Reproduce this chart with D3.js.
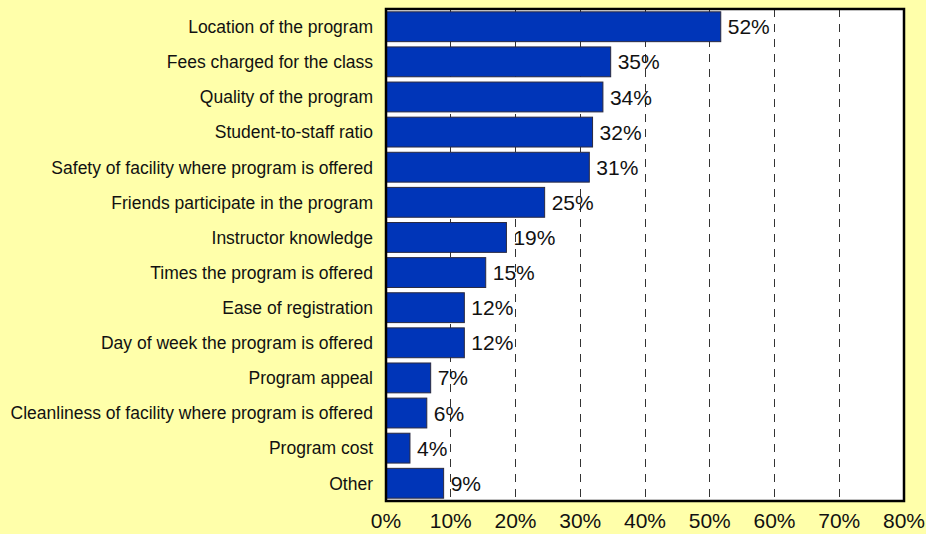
<!DOCTYPE html>
<html lang="en">
<head>
  <meta charset="UTF-8">
  <title>Program factors</title>
  <script src="https://d3js.org/d3.v7.min.js"></script>
  <style>
    body { margin: 0; background: #ffffaa; }
    svg { display: block; font-family: "Liberation Sans", Arial, sans-serif; }
  </style>
</head>
<body>
<div id="chart"></div>
<script>
  // data
  const categories = [
    "Location of the program",
    "Fees charged for the class",
    "Quality of the program",
    "Student-to-staff ratio",
    "Safety of facility where program is offered",
    "Friends participate in the program",
    "Instructor knowledge",
    "Times the program is offered",
    "Ease of registration",
    "Day of week the program is offered",
    "Program appeal",
    "Cleanliness of facility where program is offered",
    "Program cost",
    "Other"
  ];
  const values = [51.7, 34.7, 33.5, 31.9, 31.4, 24.5, 18.6, 15.4, 12.1, 12.1, 6.9, 6.3, 3.7, 8.9];
  const xTicks = [0, 10, 20, 30, 40, 50, 60, 70, 80];

  const W = 926, H = 534;
  const plotLeft = 386, plotRight = 904, plotTop = 9, plotBottom = 501;

  const svg = d3.select("#chart").append("svg")
    .attr("width", W).attr("height", H);

  svg.append("rect")
    .attr("width", W).attr("height", H)
    .attr("fill", "#ffffaa");

  const x = d3.scaleLinear().domain([0, 80]).range([plotLeft, plotRight]);
  const y = d3.scaleBand()
    .domain(categories)
    .range([plotTop, plotBottom])
    .paddingInner(0.15)
    .paddingOuter(0.08);

  // plot area
  svg.append("rect")
    .attr("x", plotLeft).attr("y", plotTop)
    .attr("width", plotRight - plotLeft).attr("height", plotBottom - plotTop)
    .attr("fill", "white");

  // dashed gridlines
  svg.selectAll(".grid")
    .data(xTicks.slice(1, -1))
    .enter().append("line")
    .attr("class", "grid")
    .attr("x1", d => Math.floor(x(d)) + 0.5)
    .attr("x2", d => Math.floor(x(d)) + 0.5)
    .attr("y1", plotTop)
    .attr("y2", plotBottom)
    .attr("stroke", "#333")
    .attr("stroke-width", 1)
    .attr("stroke-dasharray", "8,7");

  // bars
  svg.selectAll(".bar")
    .data(values)
    .enter().append("rect")
    .attr("class", "bar")
    .attr("x", x(0))
    .attr("y", (d, i) => y(categories[i]))
    .attr("width", d => x(d) - x(0))
    .attr("height", y.bandwidth())
    .attr("fill", "#0035b8")
    .attr("stroke", "#2a2a40")
    .attr("stroke-width", 1);

  // value labels
  svg.selectAll(".val")
    .data(values)
    .enter().append("text")
    .attr("class", "val")
    .attr("x", d => x(d) + 7)
    .attr("y", (d, i) => y(categories[i]) + y.bandwidth() / 2)
    .attr("dy", "0.36em")
    .attr("font-size", "21px")
    .attr("fill", "#111")
    .text(d => Math.round(d) + "%");

  // category labels
  svg.selectAll(".cat")
    .data(categories)
    .enter().append("text")
    .attr("class", "cat")
    .attr("x", plotLeft - 13)
    .attr("y", d => y(d) + y.bandwidth() / 2)
    .attr("dy", "0.36em")
    .attr("text-anchor", "end")
    .attr("font-size", "17.5px")
    .attr("fill", "#111")
    .text(d => d);

  // x tick labels
  svg.selectAll(".tick-label")
    .data(xTicks)
    .enter().append("text")
    .attr("class", "tick-label")
    .attr("x", d => x(d))
    .attr("y", 528)
    .attr("text-anchor", "middle")
    .attr("font-size", "21px")
    .attr("fill", "#111")
    .text(d => d + "%");

  // plot border
  svg.append("rect")
    .attr("x", plotLeft).attr("y", plotTop)
    .attr("width", plotRight - plotLeft).attr("height", plotBottom - plotTop)
    .attr("fill", "none")
    .attr("stroke", "black")
    .attr("stroke-width", 2.5);
</script>
</body>
</html>
